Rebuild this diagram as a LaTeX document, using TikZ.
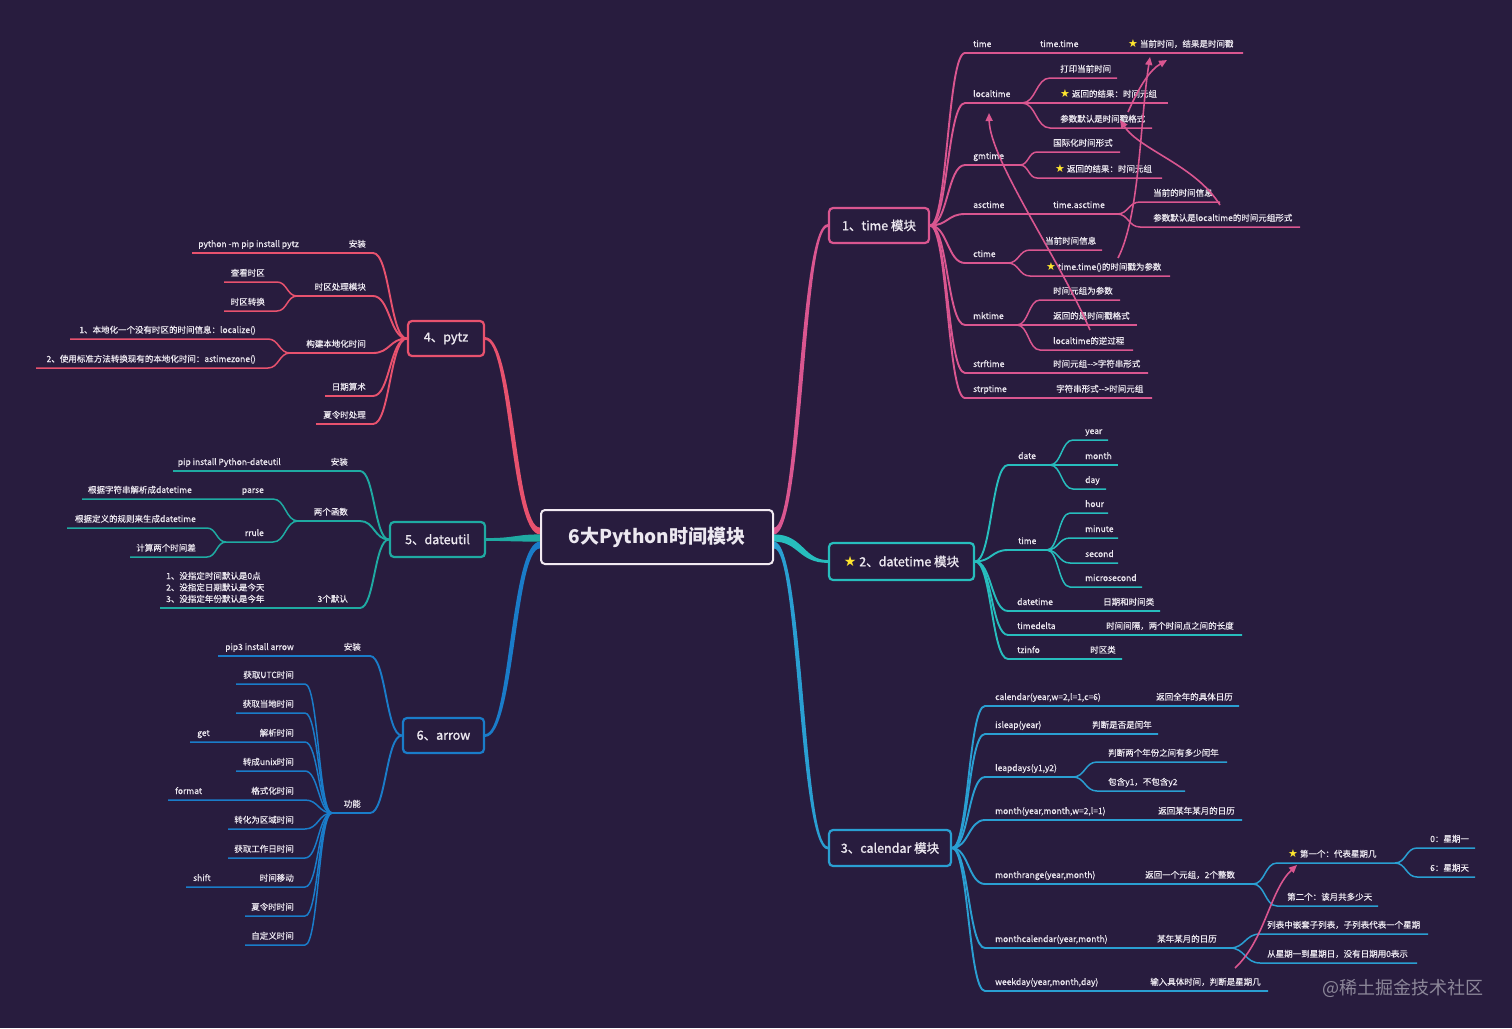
\documentclass[tikz,border=0pt]{standalone}
\usepackage{fontspec}
\setmainfont{Noto Sans CJK SC}
\newfontfamily\lblf{Noto Sans CJK SC}[FakeBold=0.5]
\newfontfamily\modf{Noto Sans CJK SC}[FakeBold=1.4]
\newfontfamily\symf{DejaVu Sans}
\usetikzlibrary{arrows.meta,calc}
\definecolor{bg}{HTML}{281C3E}
\definecolor{cT}{HTML}{DA5690}
\definecolor{cP}{HTML}{E8526E}
\definecolor{cD}{HTML}{27BDBD}
\definecolor{cU}{HTML}{1FAAA2}
\definecolor{cC}{HTML}{2A9FD2}
\definecolor{cA}{HTML}{1A7CC9}
\definecolor{txt}{HTML}{ECE8F0}
\definecolor{wm}{HTML}{8C8799}
\definecolor{cY}{HTML}{FFE62E}
\definecolor{cW}{HTML}{F2EAF2}
\pgfdeclarelayer{bgl}
\pgfdeclarelayer{lnl}
\pgfsetlayers{bgl,lnl,main}
\newcommand\ystar{{\symf\fontsize{11}{11}\selectfont\textcolor{cY}{★}}}
\newcommand\ystarb{{\symf\fontsize{14}{14}\selectfont\textcolor{cY}{★}}}
\newcommand\br[6]{%
  \coordinate (#3) at (#6,#5);
  \draw[#1] let \p1=(#2) in (#2) .. controls +({0.5*(#4-\x1)},0) and +({-0.5*(#4-\x1)},0) .. (#4,#5) -- (#3);%
}
% tapered main connector: color, start, end, half width at start, half width at end, signed middle offset
\newcommand\taper[6]{%
  \fill[#1] let \p1=(#2), \p2=(#3), \n1={0.5*(\x2-\x1)} in
   (\x1,{\y1+#4}) .. controls ({\x1+\n1+(#6)},{\y1+#4}) and ({\x2-\n1+(#6)},{\y2+#5}) .. (\x2,{\y2+#5})
   -- (\x2,{\y2-#5}) .. controls ({\x2-\n1-(#6)},{\y2-#5}) and ({\x1+\n1-(#6)},{\y1-#4}) .. (\x1,{\y1-#4}) -- cycle;%
}
\newcommand\tR[4]{\node[lbl,anchor=base west] (#1) at (#2,#3-6) {#4};}
\newcommand\tL[4]{\node[lbl,anchor=base east] (#1) at (#2,#3-6) {#4};}
\tikzset{
  lbl/.style={font=\lblf\fontsize{8.5}{10}\selectfont, text=txt, inner sep=0pt},
  mod/.style={draw, line width=2.2pt, rounded corners=4pt, fill=bg, text=txt,
    font=\modf\fontsize{12.5}{14}\selectfont, inner sep=0pt},
  Lone/.style={line width=1.9pt},
  Ltwo/.style={line width=1.5pt},
  parrow/.style={draw=cT, line width=1.6pt, -{Triangle[length=8pt,width=7pt]}}
}
\begin{document}
\begin{tikzpicture}[x=1pt,y=-1pt]
\begin{pgfonlayer}{bgl}
\fill[bg] (0,0) rectangle (1512,1028);
\end{pgfonlayer}
\useasboundingbox (0,0) rectangle (1512,1028);

% ---------- main nodes ----------
\node[mod, draw=cW, line width=2pt, minimum width=232pt, minimum height=54pt,
  font=\bfseries\fontsize{19}{22}\selectfont] (ctr) at (657,537) {6大Python时间模块};
\node[mod, draw=cT, minimum width=100pt, minimum height=35pt] (m1) at (879,225.5) {1、time 模块};
\node[mod, draw=cD, minimum width=145pt, minimum height=37pt] (m2) at (901.5,561.5) {\ystarb\ 2、datetime 模块};
\node[mod, draw=cC, minimum width=122pt, minimum height=36pt] (m3) at (890,848) {3、calendar 模块};
\node[mod, draw=cP, minimum width=76pt, minimum height=35pt] (m4) at (446,338.5) {4、pytz};
\node[mod, draw=cU, minimum width=95pt, minimum height=35pt] (m5) at (437.5,539.5) {5、dateutil};
\node[mod, draw=cA, minimum width=81pt, minimum height=35pt] (m6) at (443.5,735.5) {6、arrow};

\coordinate (s1) at ($(ctr.east)+(0,-6)$);
\coordinate (s2) at ($(ctr.east)+(0,1)$);
\coordinate (s3) at ($(ctr.east)+(0,8)$);
\coordinate (s4) at ($(ctr.west)+(0,-6)$);
\coordinate (s5) at ($(ctr.west)+(0,1)$);
\coordinate (s6) at ($(ctr.west)+(0,8)$);
\begin{pgfonlayer}{lnl}
\taper{cT}{s1}{m1.west}{3.4}{1.4}{-2.4}
\taper{cD}{s2}{m2.west}{3.6}{1.4}{2.4}
\taper{cC}{s3}{m3.west}{3.4}{1.4}{2.4}
\taper{cP}{s4}{m4.east}{3.4}{1.4}{2.4}
\taper{cU}{s5}{m5.east}{3.6}{1.4}{2.4}
\taper{cA}{s6}{m6.east}{3.4}{1.4}{-2.4}
\end{pgfonlayer}

\coordinate (p1) at (m1.east);
\coordinate (p2) at (m2.east);
\coordinate (p3) at (m3.east);
\coordinate (p4) at (m4.west);
\coordinate (p5) at (m5.west);
\coordinate (p6) at (m6.west);

% ---------- 1 time ----------
\br{cT,Lone}{p1}{t1}{965}{53}{1243}
\tR{t1a}{973}{53}{time}\tR{t1b}{1040}{53}{time.time}\tR{t1c}{1128}{53}{\ystar\ 当前时间，结果是时间戳}
\br{cT,Lone}{p1}{t2}{965}{103}{1022}
\tR{t2a}{973}{103}{localtime}
\br{cT,Ltwo}{t2}{t21}{1050}{78}{1117}\tR{t21a}{1060}{78}{打印当前时间}
\br{cT,Ltwo}{t2}{t22}{1050}{103}{1168}\tR{t22a}{1060}{103}{\ystar\ 返回的结果：时间元组}
\br{cT,Ltwo}{t2}{t23}{1050}{128}{1152}\tR{t23a}{1060}{128}{参数默认是时间戳格式}
\br{cT,Lone}{p1}{t3}{965}{165}{1020}
\tR{t3a}{973}{165}{gmtime}
\br{cT,Ltwo}{t3}{t31}{1037}{152}{1120}\tR{t31a}{1053}{152}{国际化时间形式}
\br{cT,Ltwo}{t3}{t32}{1037}{178}{1162}\tR{t32a}{1055}{178}{\ystar\ 返回的结果：时间元组}
\br{cT,Lone}{p1}{t4}{965}{214}{1117}
\tR{t4a}{973}{214}{asctime}\tR{t4b}{1053}{214}{time.asctime}
\br{cT,Ltwo}{t4}{t41}{1140}{202}{1220}\tR{t41a}{1153}{202}{当前的时间信息}
\br{cT,Ltwo}{t4}{t42}{1140}{227}{1300}\tR{t42a}{1153}{227}{参数默认是localtime的时间元组形式}
\br{cT,Lone}{p1}{t5}{965}{263}{1008}
\tR{t5a}{973}{263}{ctime}
\br{cT,Ltwo}{t5}{t51}{1030}{250}{1102}\tR{t51a}{1045}{250}{当前时间信息}
\br{cT,Ltwo}{t5}{t52}{1030}{276}{1170}\tR{t52a}{1046}{276}{\ystar\ time.time()的时间戳为参数}
\br{cT,Lone}{p1}{t6}{965}{325}{1017}
\tR{t6a}{973}{325}{mktime}
\br{cT,Ltwo}{t6}{t61}{1040}{300}{1120}\tR{t61a}{1053}{300}{时间元组为参数}
\br{cT,Ltwo}{t6}{t62}{1040}{325}{1137}\tR{t62a}{1053}{325}{返回的是时间戳格式}
\br{cT,Ltwo}{t6}{t63}{1040}{350}{1133}\tR{t63a}{1053}{350}{localtime的逆过程}
\br{cT,Lone}{p1}{t7}{965}{373}{1148}
\tR{t7a}{973}{373}{strftime}\tR{t7b}{1053}{373}{时间元组-->字符串形式}
\br{cT,Lone}{p1}{t8}{965}{398}{1152}
\tR{t8a}{973}{398}{strptime}\tR{t8b}{1056}{398}{字符串形式-->时间元组}

% arrows in time module
\coordinate (a1s) at (1118,258); \coordinate (a1e) at (1150,57);
\draw[parrow] (a1s) .. controls (1140,215) and (1140,120) .. (a1e);
\coordinate (a2s) at (1128,112); \coordinate (a2e) at (1167,60);
\draw[parrow] (a2s) .. controls (1140,85) and (1150,70) .. (a2e);
\coordinate (a3s) at (1220,205); \coordinate (a3e) at (1120,120);
\draw[parrow] (a3s) .. controls (1195,165) and (1140,150) .. (a3e);
\coordinate (a4s) at (1090,330); \coordinate (a4e) at (989,113);
\draw[parrow] (a4s) .. controls (1060,260) and (990,160) .. (a4e);

% ---------- 2 datetime ----------
\br{cD,Lone}{p2}{d1}{1008}{465}{1050}\tR{d1a}{1018}{465}{date}
\br{cD,Ltwo}{d1}{d11}{1073}{440}{1108}\tR{d11a}{1085}{440}{year}
\br{cD,Ltwo}{d1}{d12}{1073}{465}{1118}\tR{d12a}{1085}{465}{month}
\br{cD,Ltwo}{d1}{d13}{1073}{489}{1106}\tR{d13a}{1085}{489}{day}
\br{cD,Lone}{p2}{d2}{1008}{550}{1047}\tR{d2a}{1018}{550}{time}
\br{cD,Ltwo}{d2}{d21}{1070}{513}{1108}\tR{d21a}{1085}{513}{hour}
\br{cD,Ltwo}{d2}{d22}{1070}{538}{1118}\tR{d22a}{1085}{538}{minute}
\br{cD,Ltwo}{d2}{d23}{1070}{563}{1118}\tR{d23a}{1085}{563}{second}
\br{cD,Ltwo}{d2}{d24}{1070}{587}{1142}\tR{d24a}{1085}{587}{microsecond}
\br{cD,Lone}{p2}{d3}{1008}{611}{1160}\tR{d3a}{1017}{611}{datetime}\tR{d3b}{1103}{611}{日期和时间类}
\br{cD,Lone}{p2}{d4}{1008}{635}{1242}\tR{d4a}{1017}{635}{timedelta}\tR{d4b}{1106}{635}{时间间隔，两个时间点之间的长度}
\br{cD,Lone}{p2}{d5}{1008}{659}{1122}\tR{d5a}{1017}{659}{tzinfo}\tR{d5b}{1090}{659}{时区类}

% ---------- 3 calendar ----------
\br{cC,Lone}{p3}{c1}{985}{706}{1239}\tR{c1a}{995}{706}{calendar(year,w=2,l=1,c=6)}\tR{c1b}{1156}{706}{返回全年的具体日历}
\br{cC,Lone}{p3}{c2}{985}{734}{1158}\tR{c2a}{995}{734}{isleap(year)}\tR{c2b}{1092}{734}{判断是否是闰年}
\br{cC,Lone}{p3}{c3}{985}{777}{1073}\tR{c3a}{995}{777}{leapdays(y1,y2)}
\br{cC,Ltwo}{c3}{c31}{1097}{762}{1227}\tR{c31a}{1108}{762}{判断两个年份之间有多少闰年}
\br{cC,Ltwo}{c3}{c32}{1097}{791}{1185}\tR{c32a}{1108}{791}{包含y1，不包含y2}
\br{cC,Lone}{p3}{c4}{985}{820}{1242}\tR{c4a}{995}{820}{month(year,month,w=2,l=1)}\tR{c4b}{1158}{820}{返回某年某月的日历}
\br{cC,Lone}{p3}{c5}{985}{884}{1253}\tR{c5a}{995}{884}{monthrange(year,month)}\tR{c5b}{1145}{884}{返回一个元组，2个整数}
\br{cC,Ltwo}{c5}{c51}{1277}{863}{1395}\tR{c51a}{1288}{863}{\ystar\ 第一个：代表星期几}
\br{cC,Ltwo}{c51}{c511}{1417}{848}{1475}\tR{c511a}{1430}{848}{0：星期一}
\br{cC,Ltwo}{c51}{c512}{1417}{877}{1475}\tR{c512a}{1430}{877}{6：星期天}
\br{cC,Ltwo}{c5}{c52}{1277}{906}{1378}\tR{c52a}{1287}{906}{第二个：该月共多少天}
\br{cC,Lone}{p3}{c6}{985}{948}{1230}\tR{c6a}{995}{948}{monthcalendar(year,month)}\tR{c6b}{1157}{948}{某年某月的日历}
\br{cC,Ltwo}{c6}{c61}{1260}{934}{1428}\tR{c61a}{1267}{934}{列表中嵌套子列表，子列表代表一个星期}
\br{cC,Ltwo}{c6}{c62}{1260}{963}{1417}\tR{c62a}{1267}{963}{从星期一到星期日，没有日期用0表示}
\br{cC,Lone}{p3}{c7}{985}{991}{1268}\tR{c7a}{995}{991}{weekday(year,month,day)}\tR{c7b}{1150}{991}{输入具体时间，判断是星期几}
\coordinate (a5s) at (1235,968); \coordinate (a5e) at (1297,865);
\draw[parrow] (a5s) .. controls (1265,940) and (1270,890) .. (a5e);

% ---------- 4 pytz ----------
\br{cP,Lone}{p4}{y1}{373}{253}{192}\tL{y1a}{366}{253}{安装}\tL{y1b}{299}{253}{python -m pip install pytz}
\br{cP,Lone}{p4}{y2}{373}{296}{297}\tL{y2a}{366}{296}{时区处理模块}
\br{cP,Ltwo}{y2}{y21}{277}{282}{224}\tL{y21a}{265}{282}{查看时区}
\br{cP,Ltwo}{y2}{y22}{277}{311}{224}\tL{y22a}{265}{311}{时区转换}
\br{cP,Lone}{p4}{y3}{373}{353}{290}\tL{y3a}{366}{353}{构建本地化时间}
\br{cP,Ltwo}{y3}{y31}{268}{339}{70}\tL{y31a}{256}{339}{1、本地化一个没有时区的时间信息：localize()}
\br{cP,Ltwo}{y3}{y32}{268}{368}{36}\tL{y32a}{256}{368}{2、使用标准方法转换现有的本地化时间：astimezone()}
\br{cP,Lone}{p4}{y4}{373}{396}{325}\tL{y4a}{366}{396}{日期算术}
\br{cP,Lone}{p4}{y5}{373}{424}{316}\tL{y5a}{366}{424}{夏令时处理}

% ---------- 5 dateutil ----------
\br{cU,Lone}{p5}{u1}{360}{471}{173}\tL{u1a}{348}{471}{安装}\tL{u1b}{281}{471}{pip install Python-dateutil}
\br{cU,Lone}{p5}{u2}{360}{521}{298}\tL{u2a}{348}{521}{两个函数}
\br{cU,Ltwo}{u2}{u21}{273}{499}{82}\tL{u21a}{264}{499}{parse}\tL{u21b}{192}{499}{根据字符串解析成datetime}
\br{cU,Ltwo}{u2}{u22}{273}{542}{226}\tL{u22a}{264}{542}{rrule}
\br{cU,Ltwo}{u22}{u221}{207}{528}{67}\tL{u221a}{196}{528}{根据定义的规则来生成datetime}
\br{cU,Ltwo}{u22}{u222}{207}{557}{130}\tL{u222a}{196}{557}{计算两个时间差}
\br{cU,Lone}{p5}{u3}{360}{608}{160}\tL{u3a}{348}{608}{3个默认}
\node[lbl, align=left, anchor=south west, font=\lblf\fontsize{8.5}{11.5}\selectfont] (u3b) at (166,603)
  {1、没指定时间默认是0点\\2、没指定日期默认是今天\\3、没指定年份默认是今年};

% ---------- 6 arrow ----------
\br{cA,Lone}{p6}{w1}{370}{656}{218}\tL{w1a}{361}{656}{安装}\tL{w1b}{294}{656}{pip3 install arrow}
\br{cA,Lone}{p6}{w2}{370}{813}{332}\tL{w2a}{361}{813}{功能}
\br{cA,Ltwo}{w2}{w21}{305}{684}{236}\tL{w21a}{294}{684}{获取UTC时间}
\br{cA,Ltwo}{w2}{w22}{305}{713}{236}\tL{w22a}{294}{713}{获取当地时间}
\br{cA,Ltwo}{w2}{w23}{305}{742}{190}\tL{w23a}{294}{742}{解析时间}\tR{w23b}{197}{742}{get}
\br{cA,Ltwo}{w2}{w24}{305}{771}{236}\tL{w24a}{294}{771}{转成unix时间}
\br{cA,Ltwo}{w2}{w25}{305}{800}{168}\tL{w25a}{294}{800}{格式化时间}\tR{w25b}{175}{800}{format}
\br{cA,Ltwo}{w2}{w26}{305}{829}{228}\tL{w26a}{294}{829}{转化为区域时间}
\br{cA,Ltwo}{w2}{w27}{305}{858}{228}\tL{w27a}{294}{858}{获取工作日时间}
\br{cA,Ltwo}{w2}{w28}{305}{887}{186}\tL{w28a}{294}{887}{时间移动}\tR{w28b}{193}{887}{shift}
\br{cA,Ltwo}{w2}{w29}{305}{916}{245}\tL{w29a}{294}{916}{夏令时时间}
\br{cA,Ltwo}{w2}{w210}{305}{945}{245}\tL{w210a}{294}{945}{自定义时间}

% watermark
\node[font=\fontsize{18}{20}\selectfont, text=wm, anchor=west, inner sep=0pt] (wmk) at (1322,988) {@稀土掘金技术社区};
\end{tikzpicture}
\end{document}
